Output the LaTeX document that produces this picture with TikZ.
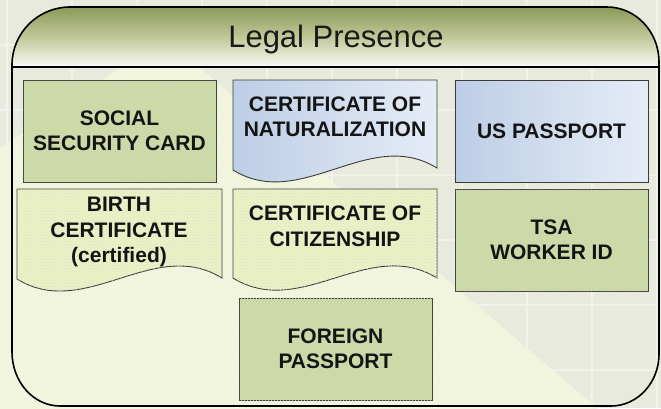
\documentclass[tikz,border=0pt]{standalone}
\usepackage{fontspec}
\setmainfont{Liberation Sans}
\usetikzlibrary{patterns}
\definecolor{bggray}{RGB}{232,234,221}
\definecolor{gridc}{RGB}{241,242,234}
\definecolor{pale}{RGB}{241,245,222}
\definecolor{hdtop}{RGB}{140,154,89}
\definecolor{hdmid}{RGB}{192,200,152}
\definecolor{hdbot}{RGB}{250,251,244}
\definecolor{boxline}{RGB}{60,60,60}
\definecolor{gbox}{RGB}{208,219,160}
\definecolor{gdot}{RGB}{192,208,214}
\definecolor{ybox}{RGB}{238,242,192}
\definecolor{ydot}{RGB}{210,222,228}
\definecolor{bluea}{RGB}{188,206,230}
\definecolor{blueb}{RGB}{230,236,246}
\tikzset{
  outline/.style={draw=black, line width=1.6pt},
  boxtext/.style={font=\fontsize{21}{25.5}\selectfont\bfseries, align=center, text=black!92},
  greenbox/.style={boxtext, draw=boxline, line width=0.9pt, fill=gbox, inner sep=0pt,
    minimum width=193pt, minimum height=102pt,
    postaction={pattern=crosshatch dots, pattern color=gdot}},
  bluebox/.style={boxtext, draw=boxline, line width=0.9pt, left color=bluea, right color=blueb,
    inner sep=0pt, minimum width=193pt, minimum height=102pt},
  bluedoc/.style={draw=boxline, line width=0.9pt, left color=bluea, right color=blueb},
  yellowdoc/.style={draw=boxline, line width=0.9pt, fill=ybox,
    postaction={pattern=crosshatch dots, pattern color=ydot}},
  gridline/.style={draw=gridc, line width=1.3pt}
}
\begin{document}
\begin{tikzpicture}[x=1pt,y=-1pt]
\useasboundingbox (0,0) rectangle (661,408);
% background
\fill[bggray] (0,0) rectangle (661,408);
\foreach \gx in {7,72,137,202,267,332,397,462,527,592,657} \draw[gridline] (\gx,0) -- (\gx,408);
\foreach \gy in {45,110,175,240,305,370} \draw[gridline] (0,\gy) -- (661,\gy);
\fill[pale] (165,38) -- (661,463) -- (0,463) -- (0,148) -- cycle;
% header
\path[top color=hdtop, bottom color=hdbot, middle color=hdmid]
  (12,67) -- (12,65) .. controls (12,33) and (38,7) .. (70,7) -- (607,7)
  .. controls (635.7,7) and (659,31.6) .. (659,62) -- (659,67) -- cycle;
% container outline
\draw[outline] (12,65) .. controls (12,33) and (38,7) .. (70,7) -- (607,7)
  .. controls (635.7,7) and (659,31.6) .. (659,62) -- (659,354)
  .. controls (659,382.7) and (637.5,406) .. (611,406) -- (60,406)
  .. controls (33.5,406) and (12,381.8) .. (12,352) -- cycle;
\draw[outline] (12,67) -- (659,67);
\node[font=\fontsize{31}{37}\selectfont, text=black!90, anchor=base] (title) at (336,47) {Legal Presence};
% row 1
\node[greenbox] (ssc) at (119.5,131) {SOCIAL\\SECURITY CARD};
\draw[bluedoc] (233,80) -- (437,80) -- (437,168)
  .. controls (369,126) and (301,212) .. (233,170) -- cycle;
\node[boxtext] (con) at (335,117) {CERTIFICATE OF\\NATURALIZATION};
\node[bluebox] (usp) at (551.5,131) {US PASSPORT};
% row 2
\draw[yellowdoc] (17,189) -- (222,189) -- (222,278)
  .. controls (153.7,236) and (85.3,321) .. (17,279) -- cycle;
\node[boxtext] (birth) at (119,232) {BIRTH\\CERTIFICATE\\(certified)};
\draw[yellowdoc] (233,189) -- (437,189) -- (437,278)
  .. controls (369,236) and (301,320) .. (233,278) -- cycle;
\node[boxtext] (coc) at (335,226.5) {CERTIFICATE OF\\CITIZENSHIP};
\node[greenbox] (tsa) at (551.5,240) {TSA\\WORKER ID};
% row 3
\node[greenbox] (fp) at (335.5,349) {FOREIGN\\PASSPORT};
\end{tikzpicture}
\end{document}
